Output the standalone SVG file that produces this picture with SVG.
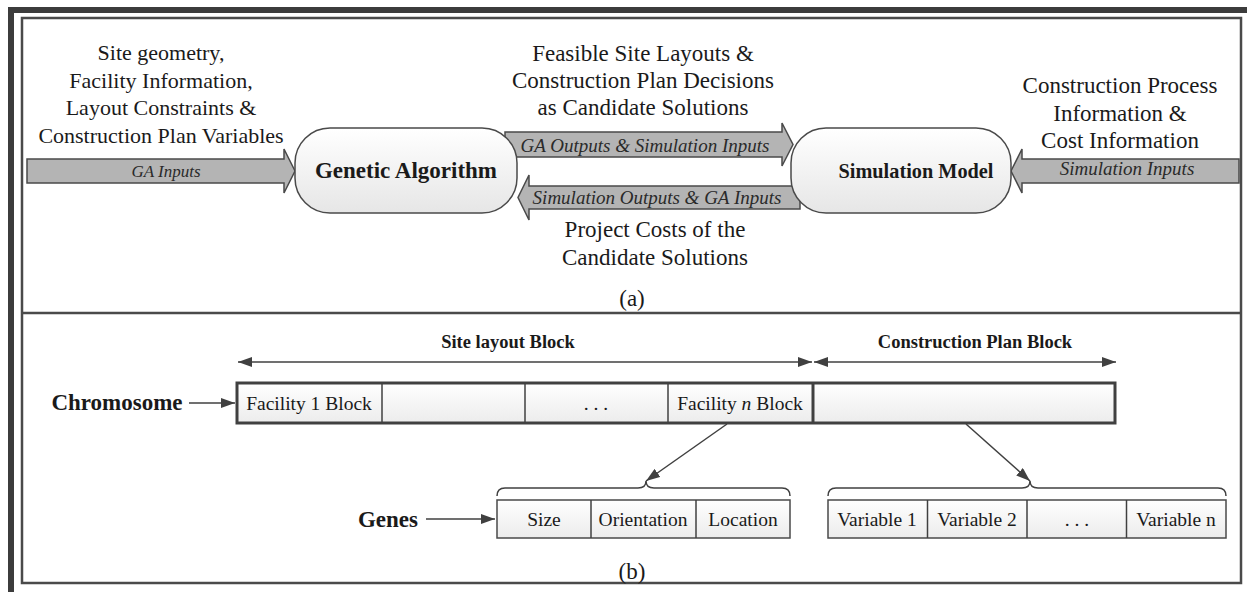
<svg xmlns="http://www.w3.org/2000/svg" width="1247" height="592" viewBox="0 0 1247 592">
<defs>
<linearGradient id="boxg" x1="0" y1="0" x2="0" y2="1">
<stop offset="0" stop-color="#ffffff"/>
<stop offset="1" stop-color="#e6e6e6"/>
</linearGradient>
<linearGradient id="cellg" x1="0" y1="0" x2="0" y2="1">
<stop offset="0" stop-color="#ffffff"/>
<stop offset="1" stop-color="#ececec"/>
</linearGradient>
<marker id="ah" viewBox="0 0 14 10" refX="14" refY="5" markerWidth="14" markerHeight="10" markerUnits="userSpaceOnUse" orient="auto-start-reverse">
<path d="M0,0 L14,5 L0,10 Z" fill="#404040"/>
</marker>
</defs>
<style>
.t{font-family:"Liberation Serif","Times New Roman",serif;fill:#1a1a1a;text-anchor:middle}
.big{font-size:23px}
.it{font-size:19px;font-style:italic;fill:#2a2a2a}
.bold{font-weight:bold}
.cell{font-size:19.5px}
.frame{fill:none;stroke:#4a4a4a}
.barrow{fill:#b4b4b4;stroke:#4a4a4a;stroke-width:1.5}
.node{fill:url(#boxg);stroke:#4a4a4a;stroke-width:1.5}
.cells{fill:url(#cellg);stroke:#4a4a4a;stroke-width:1.5}
.ln{fill:none;stroke:#404040;stroke-width:1.5}
</style>
<rect width="1247" height="592" fill="#ffffff"/>
<rect x="11" y="10" width="1260" height="600" fill="none" stroke="#3c3c3c" stroke-width="6"/>
<rect x="22" y="18" width="1219" height="565" class="frame" stroke-width="2.5"/>
<line x1="22" y1="313" x2="1241" y2="313" class="frame" stroke-width="2.5"/>

<g id="connectors">
<polygon class="barrow" points="27,159 284,159 284,149 295,171 284,193 284,183 27,183"/>
<polygon class="barrow" points="505,132 782,132 782,123 793,144.5 782,166 782,157 505,157"/>
<polygon class="barrow" points="800,186 529,186 529,175 518,197.5 529,220 529,209 800,209"/>
<polygon class="barrow" points="1239,159 1022,159 1022,149 1011,171 1022,193 1022,183 1239,183"/>
<line class="ln" x1="238" y1="362" x2="812" y2="362" marker-start="url(#ah)" marker-end="url(#ah)"/>
<line class="ln" x1="814" y1="362" x2="1116" y2="362" marker-start="url(#ah)" marker-end="url(#ah)"/>
<line class="ln" x1="189" y1="403" x2="235" y2="403" marker-end="url(#ah)"/>
<line class="ln" x1="426" y1="519" x2="495" y2="519" marker-end="url(#ah)"/>
<line class="ln" x1="727" y1="424" x2="646" y2="481" marker-end="url(#ah)"/>
<line class="ln" x1="966" y1="424" x2="1030" y2="481" marker-end="url(#ah)"/>
<path class="ln" d="M497,496 Q497,488 505,488 L638,488 Q646,488 646,481 Q646,488 654,488 L782,488 Q790,488 790,496"/>
<path class="ln" d="M828,496 Q828,488 836,488 L1022,488 Q1030,488 1030,481 Q1030,488 1038,488 L1218,488 Q1226,488 1226,496"/>
</g>

<g id="labels-a">
<text class="t" style="font-size:22px" x="161" y="60">Site geometry,</text>
<text class="t" style="font-size:22px" x="161" y="87.5">Facility Information,</text>
<text class="t" style="font-size:22px" x="161" y="115">Layout Constraints &amp;</text>
<text class="t" style="font-size:22px" x="161" y="142.5">Construction Plan Variables</text>
<text class="t big" x="643" y="61">Feasible Site Layouts &amp;</text>
<text class="t big" x="643" y="88">Construction Plan Decisions</text>
<text class="t big" x="643" y="115">as Candidate Solutions</text>
<text class="t big" x="1120" y="93">Construction Process</text>
<text class="t big" x="1120" y="120.5">Information &amp;</text>
<text class="t big" x="1120" y="148">Cost Information</text>
<text class="t big" x="655" y="237">Project Costs of the</text>
<text class="t big" x="655" y="265">Candidate Solutions</text>
<text class="t big" x="632" y="306">(a)</text>
<text class="t it" style="font-size:17px" x="166" y="177">GA Inputs</text>
<text class="t it" x="645" y="152">GA Outputs &amp; Simulation Inputs</text>
<text class="t it" x="657" y="204">Simulation Outputs &amp; GA Inputs</text>
<text class="t it" x="1127" y="175">Simulation Inputs</text>
</g>

<g id="ga">
<rect class="node" x="295" y="128" width="222" height="85" rx="35" ry="35"/>
<text class="t big bold" x="406" y="178">Genetic Algorithm</text>
</g>
<g id="sim">
<rect class="node" x="791" y="128" width="220" height="85" rx="35" ry="35"/>
<text class="t bold" style="font-size:22px" x="916" y="178" textLength="155" lengthAdjust="spacingAndGlyphs">Simulation Model</text>
</g>

<g id="labels-b">
<text class="t bold" style="font-size:18.5px" x="508" y="348">Site layout Block</text>
<text class="t bold" style="font-size:18.5px" x="975" y="348">Construction Plan Block</text>
<text class="t big bold" x="117" y="410">Chromosome</text>
<text class="t big bold" x="388" y="527">Genes</text>
<text class="t big" x="632" y="579">(b)</text>
</g>

<g id="chromosome">
<rect class="cells" x="237" y="383" width="576" height="40"/>
<line class="ln" x1="382" y1="383" x2="382" y2="423"/>
<line class="ln" x1="525" y1="383" x2="525" y2="423"/>
<line class="ln" x1="668" y1="383" x2="668" y2="423"/>
<rect class="cells" x="813" y="383" width="302" height="40"/>
<rect x="237" y="383" width="878" height="40" fill="none" stroke="#404040" stroke-width="3"/>
<line x1="813" y1="383" x2="813" y2="423" stroke="#404040" stroke-width="3"/>
<text class="t cell" x="309" y="410">Facility 1 Block</text>
<text class="t cell" x="596" y="410">. . .</text>
<text class="t cell" x="740" y="410">Facility <tspan font-style="italic">n</tspan> Block</text>
</g>

<g id="genes">
<rect class="cells" x="497" y="500" width="293" height="38"/>
<line class="ln" x1="591" y1="500" x2="591" y2="538"/>
<line class="ln" x1="696" y1="500" x2="696" y2="538"/>
<text class="t cell" x="544" y="526">Size</text>
<text class="t cell" x="643" y="526">Orientation</text>
<text class="t cell" x="743" y="526">Location</text>
</g>

<g id="variables">
<rect class="cells" x="828" y="500" width="398" height="38"/>
<line class="ln" x1="927.5" y1="500" x2="927.5" y2="538"/>
<line class="ln" x1="1027" y1="500" x2="1027" y2="538"/>
<line class="ln" x1="1126.5" y1="500" x2="1126.5" y2="538"/>
<text class="t cell" x="877" y="526">Variable 1</text>
<text class="t cell" x="977" y="526">Variable 2</text>
<text class="t cell" x="1077" y="526">. . .</text>
<text class="t cell" x="1176" y="526">Variable n</text>
</g>
</svg>
